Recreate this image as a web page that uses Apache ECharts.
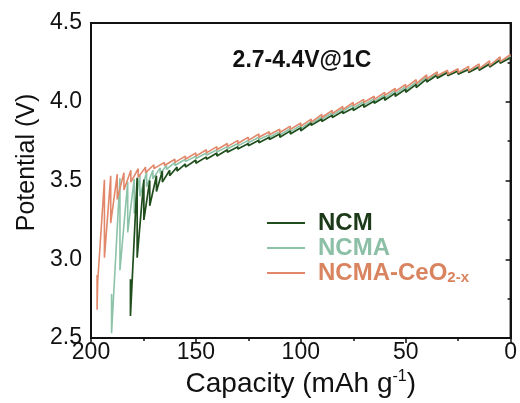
<!DOCTYPE html>
<html>
<head>
<meta charset="utf-8">
<script src="https://cdn.jsdelivr.net/npm/echarts@6/dist/echarts.min.js"></script>
<style>html,body{margin:0;padding:0;background:#fff}#c{width:520px;height:403px}</style>
</head>
<body>
<div id="c"></div>
<script>
// Series names
const seriesNames = ['NCM', 'NCMA', 'NCMA-CeO2-x'];
// Axis ticks
const xTicks = [0, 50, 100, 150, 200];
const yTicks = [2.5, 3.0, 3.5, 4.0, 4.5];
// [capacity (mAh/g), potential (V)] — GITT-like discharge profiles
const ncm = [
  [0,4.28],
  [5,4.245],[5,4.265],[10,4.22],[10,4.24],[15,4.20],[15,4.22],[20,4.185],[20,4.205],
  [25,4.175],[25,4.195],[30,4.165],[30,4.185],[35,4.15],[35,4.17],[40,4.125],[40,4.145],
  [45,4.09],[45,4.11],[50,4.06],[50,4.08],[55,4.035],[55,4.055],[60,4.01],[60,4.03],
  [65,3.99],[65,4.005],[70,3.965],[70,3.985],[75,3.945],[75,3.96],[80,3.925],[80,3.94],
  [85,3.90],[85,3.915],[90,3.875],[90,3.89],[95,3.85],[95,3.865],[100,3.815],[100,3.835],
  [105,3.795],[105,3.815],[110,3.775],[110,3.795],[115,3.76],[115,3.775],[120,3.74],[120,3.755],
  [125,3.72],[125,3.735],[130,3.70],[130,3.715],[135,3.68],[135,3.695],[140,3.655],[140,3.675],
  [145,3.635],[145,3.65],[150,3.61],[150,3.63],[155,3.585],[155,3.605],[159,3.56],[159,3.585],
  [162.5,3.53],[162.5,3.565],[166,3.49],[166,3.56],[168.8,3.43],[168.8,3.53],
  [172,3.34],[172,3.50],[174.8,3.25],[174.8,3.506],[178,3.01],[178,3.517],
  [181.2,2.64],[181.2,2.873]
];
const ncma = [
  [0,4.29],
  [5,4.25],[5,4.27],[10,4.225],[10,4.245],[15,4.205],[15,4.225],[20,4.19],[20,4.21],
  [25,4.18],[25,4.20],[30,4.17],[30,4.19],[35,4.16],[35,4.18],[40,4.14],[40,4.16],
  [45,4.105],[45,4.125],[50,4.075],[50,4.095],[55,4.05],[55,4.07],[60,4.025],[60,4.045],
  [65,4.00],[65,4.02],[70,3.98],[70,4.00],[75,3.96],[75,3.98],[80,3.94],[80,3.955],
  [85,3.915],[85,3.93],[90,3.89],[90,3.905],[95,3.86],[95,3.875],[100,3.83],[100,3.85],
  [105,3.81],[105,3.83],[110,3.79],[110,3.81],[115,3.775],[115,3.79],[120,3.76],[120,3.775],
  [125,3.74],[125,3.755],[130,3.72],[130,3.735],[135,3.70],[135,3.715],[140,3.68],[140,3.695],
  [145,3.66],[145,3.675],[150,3.64],[150,3.655],[155,3.62],[155,3.635],[160,3.595],[160,3.615],
  [164,3.57],[164,3.595],[167,3.545],[167,3.58],[170.5,3.51],[170.5,3.565],
  [173.5,3.46],[173.5,3.555],[176.7,3.40],[176.7,3.54],[179.4,3.29],[179.4,3.51],
  [182.5,3.17],[182.5,3.49],[186.2,2.93],[186.2,3.515],[190.2,2.53],[190.2,2.78]
];
const ncmaCeo = [
  [0,4.30],
  [5,4.255],[5,4.285],[10,4.23],[10,4.26],[15,4.21],[15,4.24],[20,4.195],[20,4.225],
  [25,4.185],[25,4.21],[30,4.175],[30,4.20],[35,4.165],[35,4.19],[40,4.145],[40,4.17],
  [45,4.115],[45,4.14],[50,4.09],[50,4.11],[55,4.065],[55,4.085],[60,4.04],[60,4.06],
  [65,4.015],[65,4.035],[70,3.995],[70,4.015],[75,3.975],[75,3.995],[80,3.95],[80,3.97],
  [85,3.925],[85,3.945],[90,3.90],[90,3.92],[95,3.87],[95,3.89],[100,3.845],[100,3.865],
  [105,3.825],[105,3.845],[110,3.805],[110,3.825],[115,3.79],[115,3.81],[120,3.775],[120,3.795],
  [125,3.755],[125,3.775],[130,3.735],[130,3.755],[135,3.715],[135,3.735],[140,3.695],[140,3.715],
  [145,3.675],[145,3.695],[150,3.655],[150,3.675],[155,3.635],[155,3.655],[160,3.615],[160,3.635],
  [165,3.595],[165,3.615],[170,3.575],[170,3.60],[174,3.55],[174,3.585],
  [177.5,3.52],[177.5,3.575],[181,3.49],[181,3.565],[184.3,3.44],[184.3,3.55],
  [187.5,3.38],[187.5,3.54],[190.6,3.23],[190.6,3.53],[193.6,3.01],[193.6,3.505],
  [196.8,2.86],[197.1,2.68],[197.1,2.90]
];
const titleText = '2.7-4.4V@1C';

const FONT = '"Liberation Sans", Arial, sans-serif';
const colors = ['#1f4d1c', '#8cc3a8', '#e2876a'];
const LF = 24;

const chart = echarts.init(document.getElementById('c'), null, {renderer: 'canvas'});
chart.setOption({
  animation: false,
  backgroundColor: '#fff',
  title: {
    text: titleText, left: 297, top: 44, textAlign: 'center',
    textStyle: {fontFamily: FONT, fontSize: 23, fontWeight: 'bold', color: '#111'}
  },
  grid: {left: 91, right: 8, top: 23, bottom: 64, show: true, borderColor: '#111', borderWidth: 2, backgroundColor: 'transparent'},
  legend: {
    orient: 'vertical', left: 262, top: 206, itemWidth: 38, itemHeight: 2, itemGap: 1,
    icon: 'path://M0,0H38V2H0Z',
    data: seriesNames,
    formatter: function (n) {
      if (n === 'NCM') return '{n|NCM}';
      if (n === 'NCMA') return '{m|NCMA}';
      return '{c|NCMA-CeO}{s|2-x}';
    },
    textStyle: {
      fontFamily: FONT, fontSize: LF, fontWeight: 'bold', padding: [0, 0, 0, 8],
      rich: {
        n: {fontFamily: FONT, fontSize: LF, fontWeight: 'bold', color: '#1c3a18', lineHeight: 24},
        m: {fontFamily: FONT, fontSize: LF, fontWeight: 'bold', color: '#8cbfa6', lineHeight: 24},
        c: {fontFamily: FONT, fontSize: LF, fontWeight: 'bold', color: '#d9835f', lineHeight: 24},
        s: {fontFamily: FONT, fontSize: 15, fontWeight: 'bold', color: '#d9835f', lineHeight: 24, verticalAlign: 'bottom', padding: [8, 0, 0, 0]}
      }
    }
  },
  xAxis: {
    type: 'value', inverse: true, min: 0, max: 200, interval: 50,
    name: '{a|Capacity (mAh g}{s|-1}{a|)}', nameLocation: 'middle', nameGap: 31,
    nameTextStyle: {
      rich: {
        a: {fontFamily: FONT, fontSize: 28, color: '#111'},
        s: {fontFamily: FONT, fontSize: 16, color: '#111', verticalAlign: 'top', padding: [0, 0, 14, 0]}
      }
    },
    axisLine: {lineStyle: {color: '#111', width: 2}},
    axisTick: {inside: false, length: 5, lineStyle: {color: '#111', width: 1.5}},
    minorTick: {show: true, splitNumber: 2, length: 3, lineStyle: {color: '#111', width: 1.5}},
    axisLabel: {fontFamily: FONT, fontSize: 23, color: '#111', margin: 3,
      formatter: v => xTicks.includes(v) ? String(v) : ''},
    splitLine: {show: false}
  },
  yAxis: {
    type: 'value', min: 2.5, max: 4.5, interval: 0.5,
    name: 'Potential (V)', nameLocation: 'middle', nameGap: 50,
    nameTextStyle: {fontFamily: FONT, fontSize: 25, color: '#111', padding: [0, 0, 0, 36]},
    axisLine: {show: true, lineStyle: {color: '#111', width: 2}},
    axisTick: {show: true, inside: false, length: 5, lineStyle: {color: '#111', width: 1.5}},
    minorTick: {show: true, splitNumber: 2, length: 3, lineStyle: {color: '#111', width: 1.5}},
    axisLabel: {fontFamily: FONT, fontSize: 23, color: '#111', margin: 9,
      formatter: v => { const t = yTicks.find(x => Math.abs(x - v) < 1e-9); return t === undefined ? '' : t.toFixed(1); }},
    splitLine: {show: false}
  },
  series: [
    {name: seriesNames[0], type: 'line', data: ncm, showSymbol: false, symbol: 'none', lineStyle: {color: colors[0], width: 1.7}, itemStyle: {color: colors[0]}, z: 3},
    {name: seriesNames[1], type: 'line', data: ncma, showSymbol: false, symbol: 'none', lineStyle: {color: colors[1], width: 1.6}, itemStyle: {color: colors[1]}, z: 2},
    {name: seriesNames[2], type: 'line', data: ncmaCeo, showSymbol: false, symbol: 'none', lineStyle: {color: colors[2], width: 1.6}, itemStyle: {color: colors[2]}, z: 4}
  ]
});
</script>
</body>
</html>
